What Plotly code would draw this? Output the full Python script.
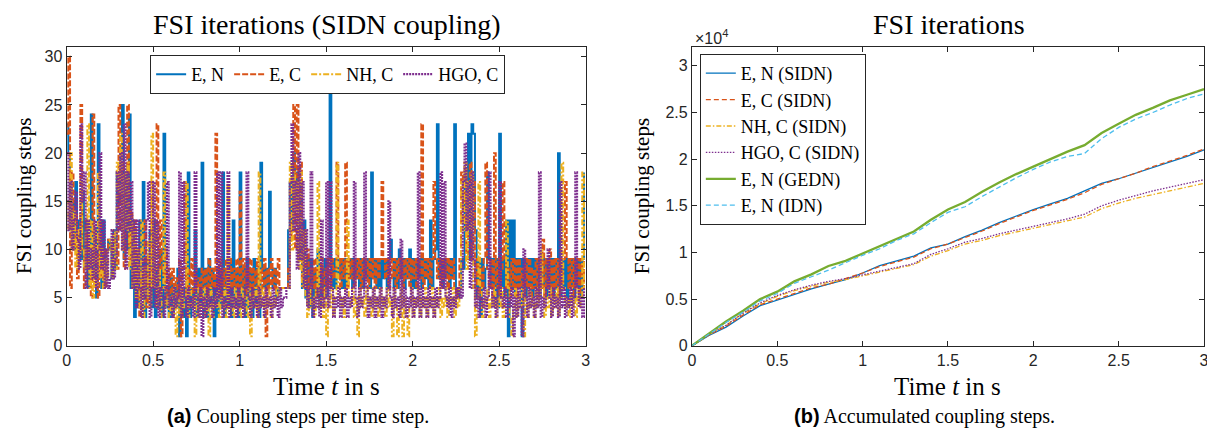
import plotly.graph_objects as go

# the page body has an 8 px default margin: the figure is sized and positioned so that
# reference pixel coordinates (1215 x 439 window) map onto it
OFF = 8
W, H = 1215 - OFF, 439 - OFF

# ---------------- data: left panel (coupling steps per time step, every 0.01 s) -------------
step_dt = 0.01
en_steps = [
    23, 20, 12, 15, 10, 17, 11, 13, 9, 16,
    8, 13, 6, 10, 24, 7, 12, 5, 23, 13,
    6, 13, 7, 10, 11, 10, 7, 12, 8, 18,
    15, 20, 25, 9, 18, 10, 24, 6, 13, 3,
    10, 4, 13, 6, 17, 3, 9, 5, 12, 4,
    13, 3, 8, 4, 10, 3, 22, 4, 6, 3,
    7, 3, 6, 4, 8, 1, 5, 3, 6, 1,
    18, 3, 6, 4, 12, 3, 8, 4, 19, 3,
    8, 3, 9, 4, 8, 1, 7, 3, 8, 4,
    18, 3, 8, 4, 9, 3, 13, 4, 8, 3,
    18, 4, 8, 3, 9, 4, 8, 3, 9, 4,
    8, 3, 19, 8, 6, 8, 6, 16, 8, 6,
    8, 5, 6, 6, 6, 6, 6, 6, 12, 17,
    12, 20, 15, 18, 9, 17, 6, 13, 5, 9,
    4, 9, 3, 8, 5, 10, 4, 8, 5, 9,
    5, 9, 27, 6, 9, 6, 9, 7, 9, 6,
    9, 6, 9, 7, 9, 6, 9, 7, 9, 6,
    9, 6, 9, 7, 9, 6, 18, 7, 9, 6,
    9, 6, 9, 7, 9, 6, 9, 11, 9, 6,
    9, 6, 10, 7, 9, 6, 9, 7, 10, 6,
    9, 6, 9, 7, 9, 6, 9, 7, 9, 6,
    13, 6, 9, 10, 23, 7, 9, 6, 9, 7,
    9, 6, 9, 7, 23, 6, 5, 6, 9, 8,
    17, 12, 22, 9, 23, 22, 12, 5, 9, 3,
    9, 6, 8, 18, 9, 6, 9, 5, 9, 4,
    22, 6, 9, 5, 13, 1, 13, 6, 13, 5,
    9, 6, 9, 1, 9, 5, 9, 6, 9, 5,
    9, 6, 9, 5, 9, 6, 9, 5, 9, 6,
    9, 5, 9, 6, 20, 5, 9, 6, 9, 5,
    9, 6, 9, 5, 9, 6, 9, 5, 9, 18,
]
ec_steps = [
    22, 30, 6, 18, 10, 14, 7, 12, 25, 10,
    6, 13, 8, 9, 5, 24, 6, 11, 5, 13,
    7, 10, 6, 10, 11, 11, 10, 10, 11, 8,
    25, 12, 19, 8, 17, 25, 9, 14, 6, 13,
    5, 10, 3, 8, 6, 13, 4, 9, 5, 17,
    6, 11, 23, 5, 13, 8, 6, 10, 5, 8,
    5, 8, 6, 7, 5, 9, 1, 8, 17, 5,
    8, 6, 9, 5, 8, 6, 7, 5, 8, 6,
    8, 5, 9, 6, 8, 6, 22, 6, 9, 5,
    8, 6, 9, 5, 9, 6, 8, 6, 9, 5,
    16, 6, 9, 5, 8, 6, 9, 5, 8, 6,
    9, 5, 8, 6, 9, 1, 8, 6, 9, 6,
    8, 6, 9, 6, 6, 6, 6, 6, 8, 11,
    13, 25, 10, 25, 9, 19, 7, 12, 6, 10,
    5, 8, 6, 9, 5, 8, 6, 9, 5, 8,
    6, 9, 6, 9, 7, 8, 19, 9, 6, 9,
    7, 19, 6, 9, 7, 9, 6, 9, 7, 9,
    6, 9, 7, 9, 6, 9, 7, 9, 6, 9,
    7, 9, 17, 9, 7, 9, 6, 9, 7, 9,
    6, 9, 7, 9, 6, 9, 7, 9, 6, 9,
    7, 9, 6, 9, 7, 23, 6, 9, 7, 9,
    6, 9, 17, 9, 7, 9, 6, 9, 7, 9,
    6, 9, 7, 9, 6, 5, 6, 9, 18, 13,
    19, 9, 13, 19, 9, 17, 6, 9, 5, 8,
    6, 9, 19, 8, 6, 9, 5, 20, 6, 9,
    5, 8, 17, 9, 6, 8, 5, 9, 6, 9,
    5, 9, 6, 8, 5, 9, 6, 9, 5, 8,
    6, 9, 5, 9, 6, 11, 5, 9, 6, 10,
    5, 9, 6, 9, 5, 9, 6, 9, 17, 9,
    6, 9, 5, 9, 6, 9, 5, 9, 6, 9,
]
nh_steps = [
    15, 12, 20, 10, 14, 8, 12, 9, 17, 10,
    8, 12, 23, 6, 13, 5, 12, 6, 18, 7,
    10, 6, 9, 7, 10, 11, 7, 12, 8, 19,
    16, 22, 10, 18, 12, 19, 8, 13, 6, 12,
    5, 10, 4, 13, 3, 8, 5, 11, 4, 22,
    6, 12, 4, 8, 3, 6, 18, 4, 5, 3,
    5, 3, 6, 1, 5, 3, 6, 4, 5, 17,
    3, 6, 4, 5, 1, 6, 3, 5, 4, 6,
    3, 5, 1, 6, 3, 5, 4, 6, 3, 5,
    4, 6, 3, 17, 4, 5, 3, 6, 4, 5,
    3, 6, 4, 5, 3, 6, 1, 5, 4, 6,
    3, 18, 4, 6, 3, 5, 4, 6, 3, 5,
    4, 6, 5, 6, 6, 6, 6, 6, 6, 19,
    10, 18, 14, 17, 8, 18, 6, 12, 5, 3,
    6, 4, 5, 3, 6, 17, 4, 5, 3, 6,
    1, 5, 4, 6, 3, 5, 19, 6, 4, 5,
    3, 6, 13, 5, 4, 6, 3, 5, 1, 6,
    4, 5, 3, 6, 4, 5, 3, 6, 4, 5,
    3, 6, 4, 5, 3, 6, 4, 5, 1, 6,
    4, 1, 3, 6, 1, 5, 3, 1, 4, 6,
    3, 5, 4, 6, 3, 5, 4, 6, 3, 5,
    4, 6, 3, 5, 4, 6, 3, 5, 4, 6,
    3, 5, 4, 6, 3, 5, 4, 6, 17, 12,
    19, 8, 17, 12, 18, 6, 1, 5, 17, 6,
    3, 5, 4, 6, 3, 5, 4, 6, 3, 5,
    4, 6, 3, 5, 13, 6, 3, 1, 4, 6,
    3, 5, 4, 6, 1, 5, 3, 6, 4, 5,
    3, 6, 4, 5, 10, 6, 3, 5, 4, 6,
    3, 5, 4, 6, 3, 5, 19, 6, 4, 5,
    3, 6, 4, 5, 3, 6, 4, 5, 18, 6,
]
hgo_steps = [
    20, 12, 17, 10, 13, 16, 11, 8, 23, 15,
    18, 6, 13, 8, 10, 7, 13, 6, 10, 20,
    8, 13, 6, 10, 6, 7, 12, 7, 9, 18,
    12, 20, 10, 23, 8, 18, 12, 17, 6, 13,
    4, 13, 6, 3, 9, 5, 13, 17, 3, 6,
    17, 4, 13, 3, 6, 5, 3, 6, 17, 4,
    5, 3, 6, 4, 5, 18, 3, 17, 5, 3,
    6, 4, 5, 3, 18, 5, 3, 6, 1, 5,
    3, 6, 4, 5, 3, 6, 4, 18, 5, 18,
    3, 5, 4, 18, 3, 6, 4, 5, 3, 6,
    4, 5, 3, 6, 18, 5, 3, 6, 4, 5,
    3, 6, 4, 5, 3, 6, 4, 5, 3, 6,
    4, 5, 3, 6, 4, 5, 5, 6, 6, 17,
    23, 12, 17, 8, 20, 9, 17, 6, 12, 4,
    6, 18, 3, 5, 4, 6, 3, 13, 4, 5,
    17, 4, 17, 6, 3, 5, 4, 6, 3, 5,
    4, 6, 3, 5, 4, 6, 17, 5, 3, 6,
    4, 5, 18, 6, 3, 5, 4, 6, 3, 5,
    4, 6, 3, 5, 4, 6, 15, 5, 3, 6,
    4, 5, 3, 11, 4, 6, 3, 5, 4, 6,
    3, 5, 4, 18, 3, 6, 4, 5, 3, 6,
    4, 5, 3, 6, 4, 5, 18, 6, 17, 5,
    4, 6, 3, 5, 4, 6, 5, 6, 5, 17,
    21, 12, 17, 6, 18, 9, 4, 6, 3, 5,
    4, 6, 3, 5, 18, 6, 4, 5, 3, 6,
    17, 5, 4, 6, 3, 5, 4, 6, 1, 5,
    3, 6, 4, 1, 10, 5, 3, 6, 4, 5,
    3, 6, 4, 18, 3, 5, 4, 6, 10, 5,
    3, 6, 4, 5, 3, 17, 4, 6, 3, 5,
    4, 6, 3, 5, 18, 6, 4, 5, 3, 6,
]

# ---------------- data: right panel (accumulated coupling steps, every 0.1 s) -------------
acc_time = [0.0, 0.1, 0.2, 0.3, 0.4, 0.5, 0.6, 0.7, 0.8, 0.9, 1.0,
            1.1, 1.2, 1.3, 1.4, 1.5, 1.6, 1.7, 1.8, 1.9, 2.0,
            2.1, 2.2, 2.3, 2.4, 2.5, 2.6, 2.7, 2.8, 2.9, 3.0]
acc_en_sidn = [0, 1100, 2000, 3200, 4300, 4900, 5500, 6100, 6600, 7100, 7800,
               8600, 9100, 9600, 10500, 10900, 11700, 12400, 13200, 13900, 14600,
               15200, 15800, 16600, 17400, 17900, 18500, 19100, 19700, 20300, 21000]
acc_ec_sidn = [0, 1150, 2100, 3300, 4400, 5000, 5600, 6200, 6600, 7200, 7800,
               8500, 9000, 9500, 10400, 10900, 11600, 12300, 13100, 13800, 14500,
               15100, 15700, 16400, 17300, 17900, 18500, 19200, 19800, 20400, 21100]
acc_nh_sidn = [0, 1200, 2200, 3500, 4500, 5300, 5900, 6400, 6800, 7100, 7500,
               7900, 8300, 8700, 9600, 10200, 10900, 11300, 11800, 12200, 12600,
               13000, 13400, 13800, 14700, 15300, 15800, 16200, 16600, 17000, 17400]
acc_hgo_sidn = [0, 1200, 2200, 3500, 4600, 5400, 6000, 6500, 6900, 7200, 7600,
                8000, 8400, 8800, 9800, 10400, 11100, 11500, 12000, 12400, 12800,
                13200, 13600, 14100, 15000, 15600, 16100, 16600, 17000, 17400, 17800]
acc_en_gedn = [0, 1300, 2600, 3750, 5000, 5800, 6900, 7650, 8550, 9100, 9900,
               10650, 11500, 12250, 13500, 14600, 15400, 16500, 17500, 18400, 19200,
               20000, 20800, 21500, 22800, 23800, 24750, 25500, 26300, 26900, 27500]
acc_en_idn = [0, 1250, 2500, 3600, 4800, 5600, 6700, 7400, 8100, 8900, 9700,
              10400, 11300, 12000, 13200, 14300, 14900, 16000, 17000, 18000, 18900,
              19700, 20300, 20600, 22200, 23400, 24300, 25000, 25800, 26500, 27000]

x_ticks = [0, 0.5, 1, 1.5, 2, 2.5, 3]
x_tick_labels = ["0", "0.5", "1", "1.5", "2", "2.5", "3"]
left_y_ticks = [0, 5, 10, 15, 20, 25, 30]
right_y_ticks = [0, 5000, 10000, 15000, 20000, 25000, 30000]
right_y_tick_labels = ["0", "0.5", "1", "1.5", "2", "2.5", "3"]

left_names = ["E, N", "E, C", "NH, C", "HGO, C"]
right_names = ["E, N (SIDN)", "E, C (SIDN)", "NH, C (SIDN)", "HGO, C (SIDN)",
               "E, N (GEDN)", "E, N (IDN)"]

# ---------------- styles -------------
BLUE = "#0072BD"
ORANGE = "#D95319"
YELLOW = "#EDB120"
PURPLE = "#7E2F8E"
GREEN = "#77AC30"
CYAN = "#4DBEEE"
INK = "#262626"
SERIF = "Liberation Serif"
SANS = "Liberation Sans"


def px(x):
    return (x - OFF) / W


def py(y):
    return 1 - (y - OFF) / H


fig = go.Figure()

step_time = [round(i * step_dt, 2) for i in range(len(en_steps))]
left_series = [en_steps, ec_steps, nh_steps, hgo_steps]
left_styles = [(BLUE, "solid", 2.0), (ORANGE, "6px,2px", 2.0), (YELLOW, "6px,2px,2px,2px", 2.0),
               (PURPLE, "2px,1px", 2.2)]
for name, vals, (col, dash, wdt) in zip(left_names, left_series, left_styles):
    fig.add_trace(go.Scatter(
        x=step_time, y=vals, mode="lines", name=name,
        line=dict(color=col, dash=dash, width=wdt, shape="hv"),
        xaxis="x", yaxis="y", legend="legend",
    ))

right_series = [acc_en_sidn, acc_ec_sidn, acc_nh_sidn, acc_hgo_sidn, acc_en_gedn, acc_en_idn]
right_styles = [(BLUE, "solid", 1.3), (ORANGE, "5px,3px", 1.3), (YELLOW, "5px,2px,1.5px,2px", 1.3),
                (PURPLE, "1.5px,1.5px", 1.3), (GREEN, "solid", 2.3), (CYAN, "5px,3px", 1.3)]
for name, vals, (col, dash, wdt) in zip(right_names, right_series, right_styles):
    fig.add_trace(go.Scatter(
        x=acc_time, y=vals, mode="lines", name=name,
        line=dict(color=col, dash=dash, width=wdt),
        xaxis="x2", yaxis="y2", legend="legend2",
    ))

axis_common = dict(
    showline=True, linecolor=INK, linewidth=1, mirror="ticks",
    ticks="inside", ticklen=5, tickwidth=1, tickcolor=INK,
    showgrid=False, zeroline=False,
    tickfont=dict(family=SANS, size=16, color=INK),
)

y_bot, y_top = py(353), py(48)

fig.update_layout(
    width=W, height=H,
    margin=dict(l=0, r=0, t=0, b=0),
    paper_bgcolor="white", plot_bgcolor="white",
    xaxis=dict(domain=[px(63), px(586)], range=[0, 3], tickvals=x_ticks,
               ticktext=x_tick_labels, anchor="y", **axis_common),
    yaxis=dict(domain=[y_bot, y_top], range=[0, 31], tickvals=left_y_ticks,
               anchor="x", **axis_common),
    xaxis2=dict(domain=[px(693), px(1209)], range=[0, 3], tickvals=x_ticks,
                ticktext=x_tick_labels, anchor="y2", **axis_common),
    yaxis2=dict(domain=[y_bot, y_top], range=[0, 32000], tickvals=right_y_ticks,
                ticktext=right_y_tick_labels, anchor="x2", **axis_common),
    legend=dict(
        orientation="h", x=px(326), y=py(56), xanchor="center", yanchor="top",
        bgcolor="white", bordercolor=INK, borderwidth=1,
        font=dict(family=SERIF, size=18, color="black"),
        itemwidth=30, tracegroupgap=0,
    ),
    legend2=dict(
        orientation="v", x=px(701), y=py(55), xanchor="left", yanchor="top",
        bgcolor="white", bordercolor=INK, borderwidth=1,
        font=dict(family=SERIF, size=18, color="black"),
        itemwidth=30, tracegroupgap=0,
    ),
    showlegend=True,
)

annotations = [
    dict(text="FSI iterations (SIDN coupling)", x=px(325), y=py(25), size=28, family=SERIF),
    dict(text="FSI iterations", x=px(952), y=py(25), size=28, family=SERIF),
    dict(text="Time <i>t</i> in s", x=px(325), y=py(395), size=25, family=SERIF),
    dict(text="Time <i>t</i> in s", x=px(951), y=py(395), size=25, family=SERIF),
    dict(text='<span style="font-family:Liberation Sans"><b>(a)</b></span> Coupling steps per time step.',
         x=px(296), y=py(425), size=20, family=SERIF),
    dict(text='<span style="font-family:Liberation Sans"><b>(b)</b></span> Accumulated coupling steps.',
         x=px(927), y=py(425), size=20, family=SERIF),
]
for a in annotations:
    fig.add_annotation(text=a["text"], x=a["x"], y=a["y"], xref="paper", yref="paper",
                       showarrow=False, xanchor="center", yanchor="middle",
                       font=dict(family=a["family"], size=a["size"], color="black"))

fig.add_annotation(text="FSI coupling steps", x=px(20), y=py(200), xref="paper", yref="paper",
                   showarrow=False, textangle=-90, xanchor="center", yanchor="middle",
                   font=dict(family=SERIF, size=21, color="black"))
fig.add_annotation(text="FSI coupling steps", x=px(643), y=py(200), xref="paper", yref="paper",
                   showarrow=False, textangle=-90, xanchor="center", yanchor="middle",
                   font=dict(family=SERIF, size=21, color="black"))
fig.add_annotation(text="×10<sup>4</sup>", x=px(694), y=py(38), xref="paper", yref="paper",
                   showarrow=False, xanchor="left", yanchor="middle",
                   font=dict(family=SANS, size=16, color=INK))

fig.write_html("out.html")
